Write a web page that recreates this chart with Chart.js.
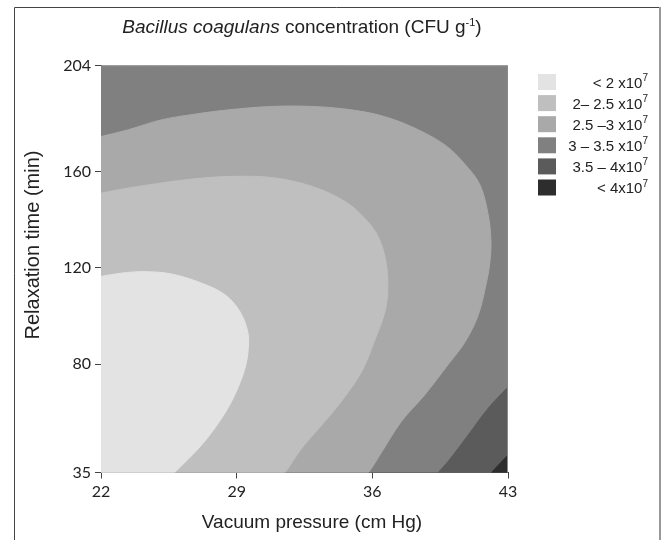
<!DOCTYPE html>
<html>
<head>
<meta charset="utf-8">
<title>Bacillus coagulans concentration</title>
<script src="https://cdn.jsdelivr.net/npm/chart.js@4"></script>
<style>
  body { margin: 0; background: #fff; }
  canvas { display: block; }
</style>
</head>
<body>
<canvas id="contourChart" width="662" height="540"></canvas>
<script>
// axis ticks
const xTicks = [22, 29, 36, 43];
const yTicks = [35, 80, 120, 160, 204];

// contour bands, lightest first (same order as the legend)
const bandLabels = ["< 2 x10", "2\u2013 2.5 x10", "2.5 \u20133 x10", "3 \u2013 3.5 x10", "3.5 \u2013 4x10", "< 4x10"];
const bandExponent = "7";
const bandColors = ["#e3e3e3", "#bfbfbf", "#a9a9a9", "#808080", "#5b5b5b", "#2d2d2d"];

// contour lines (vacuum pressure, relaxation time)
const edge20X = [22, 23.07, 24.27, 25.65, 27.2, 28.4, 29.17, 29.57, 29.6, 29.43, 28.9, 28.23, 27.2, 25.8];
const edge20Y = [116.4, 117.8, 118.4, 117.4, 113.6, 108.8, 101.8, 93.5, 86.6, 78.3, 67.2, 57.6, 46.5, 35];

const edge25X = [22, 23.4, 25.1, 26.85, 28.6, 30.8, 32.9, 34.6, 35.6, 36.3, 36.7, 36.8, 36.65, 36.1, 35.45, 34.4, 33.4, 32.36, 31.5];
const edge25Y = [151, 153.1, 155.2, 157, 157.9, 157.5, 153.8, 147.5, 140.6, 133, 122.6, 111.6, 101.8, 89.4, 76.9, 64.5, 54.8, 45.1, 35];

const edge30X = [22, 23.4, 25.1, 26.85, 28.6, 30.8, 32.9, 34.6, 36.3, 38.0, 39.75, 40.8, 41.55, 41.98, 42.12, 42.07, 41.9, 41.47, 40.8, 39.9, 38.7, 37.5, 36.5, 35.8];
const edge30Y = [174.5, 177.3, 181.4, 183.8, 185.6, 187, 187, 185.9, 183.5, 178.7, 171, 162.8, 154.5, 142, 130.9, 122.6, 114.3, 100.5, 89.4, 79.7, 67.2, 56.2, 43.7, 35];

const edge35X = [43, 41.98, 40.95, 39.9, 39.4];
const edge35Y = [70.5, 61.7, 50.6, 39.5, 35];

const edge40X = [43, 42.15];
const edge40Y = [42.3, 35];

const xMin = xTicks[0], xMax = xTicks[xTicks.length - 1];
const yMin = yTicks[0], yMax = yTicks[yTicks.length - 1];

// closed shape: contour line, then along the plot edge to a corner
function region(xs, ys, cornerX, cornerY, color, order) {
    const pts = xs.map((x, i) => ({ x, y: ys[i] }));
    if (cornerX !== undefined) {
        const last = pts[pts.length - 1];
        // tiny step along the edge so the spline meets the edge without a hook
        pts.push({ x: last.x + (cornerX - last.x) * 0.01, y: last.y + (cornerY - last.y) * 0.01 });
        pts.push({ x: cornerX, y: cornerY });
    }
    return {
        data: pts,
        backgroundColor: color,
        borderColor: color,
        borderWidth: 1,
        fill: "shape",
        pointRadius: 0,
        tension: 0.35,
        order: order,
    };
}

const datasets = [
    // whole plot = 3 - 3.5 band, drawn first
    region([xMin, xMax, xMax, xMin], [yMax, yMax, yMin, yMin], undefined, undefined, bandColors[3], 6),
    region(edge30X, edge30Y, xMin, yMin, bandColors[2], 5),
    region(edge25X, edge25Y, xMin, yMin, bandColors[1], 4),
    region(edge20X, edge20Y, xMin, yMin, bandColors[0], 3),
    region(edge35X, edge35Y, xMax, yMin, bandColors[4], 2),
    region(edge40X, edge40Y, xMax, yMin, bandColors[5], 1),
];

const decorations = {
    id: "decorations",
    beforeDraw(chart) {
        const ctx = chart.ctx;
        ctx.save();
        ctx.fillStyle = "#fff";
        ctx.fillRect(0, 0, chart.width, chart.height);
        // outer frame
        ctx.lineWidth = 1;
        ctx.strokeStyle = "#444";
        ctx.beginPath();
        ctx.moveTo(14.5, chart.height);
        ctx.lineTo(14.5, 7.5);
        ctx.lineTo(659, 7.5);
        ctx.stroke();
        ctx.strokeStyle = "#999";
        ctx.lineWidth = 2;
        ctx.beginPath();
        ctx.moveTo(660, 7);
        ctx.lineTo(660, chart.height);
        ctx.stroke();
        ctx.restore();
    },
    afterDatasetsDraw(chart) {
        const { ctx, chartArea: a } = chart;
        ctx.save();
        ctx.strokeStyle = "#8a8a8a";
        ctx.lineWidth = 1;
        ctx.beginPath();
        ctx.moveTo(a.left, a.top + 0.5);
        ctx.lineTo(a.right - 0.5, a.top + 0.5);
        ctx.lineTo(a.right - 0.5, a.bottom);
        ctx.stroke();
        ctx.restore();
    },
    afterDraw(chart) {
        const ctx = chart.ctx;
        ctx.save();
        ctx.fillStyle = "#222";

        // title with italic species name and superscript
        const fItalic = "italic 19px 'Liberation Sans', Arial, sans-serif";
        const fNormal = "19px 'Liberation Sans', Arial, sans-serif";
        const fSup = "11px 'Liberation Sans', Arial, sans-serif";
        const parts = [
            ["Bacillus coagulans", fItalic, 0],
            [" concentration (CFU g", fNormal, 0],
            ["-1", fSup, -7],
            [")", fNormal, 0],
        ];
        let total = 0;
        parts.forEach(p => { ctx.font = p[1]; total += ctx.measureText(p[0]).width; });
        let x = 302 - total / 2;
        ctx.textAlign = "left";
        ctx.textBaseline = "alphabetic";
        parts.forEach(p => {
            ctx.font = p[1];
            ctx.fillText(p[0], x, 33 + p[2]);
            x += ctx.measureText(p[0]).width;
        });

        // axis titles
        ctx.font = "19px 'Liberation Sans', Arial, sans-serif";
        ctx.textAlign = "center";
        ctx.fillText("Vacuum pressure (cm Hg)", 312, 528);
        ctx.save();
        ctx.translate(33, 245);
        ctx.rotate(-Math.PI / 2);
        ctx.textBaseline = "middle";
        ctx.font = "20px 'Liberation Sans', Arial, sans-serif";
        ctx.fillText("Relaxation time (min)", 0, 0);
        ctx.restore();

        // legend
        bandLabels.forEach((label, i) => {
            const top = 74 + i * 21.1;
            ctx.fillStyle = bandColors[i];
            ctx.fillRect(538, top, 18, 16);
            ctx.fillStyle = "#222";
            ctx.textAlign = "right";
            ctx.textBaseline = "alphabetic";
            ctx.font = "10px 'Liberation Sans', Arial, sans-serif";
            const expW = ctx.measureText(bandExponent).width;
            ctx.fillText(bandExponent, 648, top + 7);
            ctx.font = "15px 'Liberation Sans', Arial, sans-serif";
            ctx.fillText(label, 648 - expW, top + 13.5);
        });
        ctx.restore();
    },
};

new Chart(document.getElementById("contourChart"), {
    type: "line",
    data: { datasets: datasets },
    options: {
        responsive: false,
        animation: false,
        events: [],
        layout: { padding: { left: 0, top: 65.5, right: 154, bottom: 37.5 } },
        plugins: {
            legend: { display: false },
            tooltip: { enabled: false },
        },
        scales: {
            x: {
                type: "linear",
                min: xMin,
                max: xMax,
                z: 1,
                afterBuildTicks: (scale) => { scale.ticks = xTicks.map(v => ({ value: v })); },
                afterFit: (scale) => { scale.height = 30; },
                grid: { drawOnChartArea: false, drawTicks: true, tickLength: 6, color: "#444" },
                border: { color: "#444", width: 1 },
                ticks: { padding: 4, color: "#222", font: { family: "Lato", size: 16 } },
            },
            y: {
                type: "linear",
                min: yMin,
                max: yMax,
                z: 1,
                afterBuildTicks: (scale) => { scale.ticks = yTicks.map(v => ({ value: v })); },
                afterFit: (scale) => { scale.width = 101; },
                grid: { drawOnChartArea: false, drawTicks: true, tickLength: 6, color: "#444" },
                border: { color: "#444", width: 1 },
                ticks: { padding: 4, color: "#222", font: { family: "Lato", size: 16 } },
            },
        },
    },
    plugins: [decorations],
});
</script>
</body>
</html>
